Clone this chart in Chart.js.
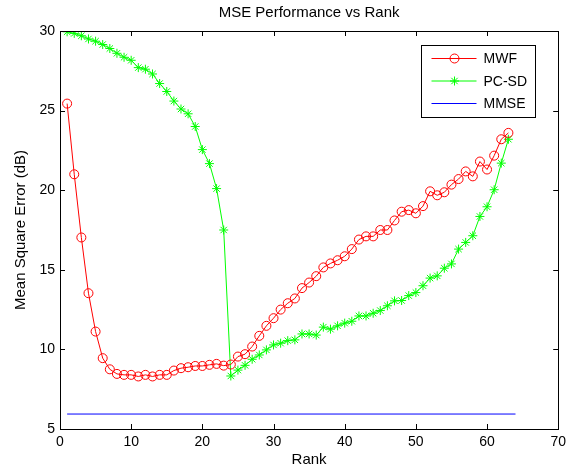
<!DOCTYPE html>
<html>
<head>
<meta charset="utf-8">
<script src="https://cdn.jsdelivr.net/npm/chart.js@4"></script>
<style>
  html, body { margin: 0; padding: 0; background: #fff; }
  #wrap { width: 571px; height: 472px; }
</style>
</head>
<body>
<div id="wrap"><canvas id="mseChart" width="571" height="472"></canvas></div>
<script>
// Rank values used for both estimators
var ranks = [1, 2, 3, 4, 5, 6, 7, 8, 9, 10, 11, 12, 13, 14, 15, 16, 17, 18, 19, 20,
  21, 22, 23, 24, 25, 26, 27, 28, 29, 30, 31, 32, 33, 34, 35, 36, 37, 38, 39, 40,
  41, 42, 43, 44, 45, 46, 47, 48, 49, 50, 51, 52, 53, 54, 55, 56, 57, 58, 59, 60,
  61, 62, 63];

// Mean square error (dB) per rank
var mwf = [25.44, 21.0, 17.03, 13.53, 11.12, 9.45, 8.75, 8.46, 8.4, 8.4,
  8.3, 8.4, 8.3, 8.4, 8.4, 8.67, 8.82, 8.88, 8.96, 8.96,
  9.03, 9.09, 8.98, 9.05, 9.55, 9.7, 10.18, 10.85, 11.48, 11.96,
  12.5, 12.9, 13.2, 13.85, 14.2, 14.6, 15.15, 15.4, 15.6, 15.85,
  16.3, 16.9, 17.1, 17.1, 17.5, 17.5, 18.1, 18.65, 18.75, 18.55,
  19.0, 19.93, 19.68, 19.87, 20.35, 20.7, 21.18, 20.87, 21.8, 21.3,
  22.17, 23.2, 23.6];

var pcsd = [29.95, 29.85, 29.7, 29.5, 29.36, 29.15, 28.9, 28.6, 28.35, 28.16,
  27.7, 27.6, 27.3, 26.7, 26.2, 25.6, 25.1, 24.8, 24.0, 22.55,
  21.67, 20.1, 17.5, 8.33, 8.7, 9.0, 9.38, 9.65, 9.97, 10.28,
  10.39, 10.55, 10.6, 10.97, 10.97, 10.9, 11.4, 11.27, 11.48, 11.65,
  11.77, 12.1, 12.1, 12.27, 12.44, 12.74, 13.05, 13.07, 13.38, 13.57,
  14.0, 14.48, 14.62, 15.1, 15.37, 16.3, 16.72, 17.14, 18.35, 18.96,
  20.03, 21.7, 23.2];

// MMSE bound is flat over the whole rank range
var mmseRanks = [1, 64];
var mmse = [5.94, 5.94];

var xTicks = [0, 10, 20, 30, 40, 50, 60, 70];
var yTicks = [5, 10, 15, 20, 25, 30];

function toPoints(xs, ys) {
  return xs.map(function (x, i) { return { x: x, y: ys[i] }; });
}

var FONT = "'Liberation Sans', Arial, Helvetica, sans-serif";

// matlab-style frame with inward ticks, title and boxed legend
var framePlugin = {
  id: "frame",
  afterDraw: function (chart) {
    var ctx = chart.ctx;
    var a = chart.chartArea;
    var xs = chart.scales.x, ys = chart.scales.y;
    var tl = 5;
    ctx.save();
    ctx.strokeStyle = "#000";
    ctx.lineWidth = 1;
    ctx.beginPath();
    xTicks.forEach(function (v) {
      var px = Math.round(xs.getPixelForValue(v)) + 0.5;
      ctx.moveTo(px, a.bottom); ctx.lineTo(px, a.bottom - tl);
      ctx.moveTo(px, a.top); ctx.lineTo(px, a.top + tl);
    });
    yTicks.forEach(function (v) {
      var py = Math.round(ys.getPixelForValue(v)) + 0.5;
      ctx.moveTo(a.left, py); ctx.lineTo(a.left + tl, py);
      ctx.moveTo(a.right, py); ctx.lineTo(a.right - tl, py);
    });
    ctx.stroke();
    ctx.strokeRect(Math.round(a.left) + 0.5, Math.round(a.top) + 0.5,
      Math.round(a.right - a.left), Math.round(a.bottom - a.top));

    // title
    ctx.fillStyle = "#000";
    ctx.font = "15px " + FONT;
    ctx.textAlign = "center";
    ctx.textBaseline = "middle";
    ctx.fillText("MSE Performance vs Rank", (a.left + a.right) / 2, 13);

    // legend
    var lx = 421.5, ly = 45.5, lw = 114, lh = 72;
    ctx.fillStyle = "#fff";
    ctx.fillRect(lx, ly, lw, lh);
    ctx.strokeRect(lx, ly, lw, lh);
    var rows = chart.data.datasets;
    rows.forEach(function (ds, i) {
      var y = ly + 13 + i * 22.5;
      ctx.strokeStyle = ds.borderColor;
      ctx.lineWidth = 1;
      ctx.beginPath();
      ctx.moveTo(lx + 10, y); ctx.lineTo(lx + 55, y);
      ctx.stroke();
      var cx = lx + 33;
      if (ds.pointStyle === "circle" && ds.pointRadius > 0) {
        ctx.beginPath();
        ctx.arc(cx, y, ds.pointRadius, 0, Math.PI * 2);
        ctx.stroke();
      } else if (ds.pointStyle === "star" && ds.pointRadius > 0) {
        var r = ds.pointRadius, d = r * 0.7071;
        ctx.beginPath();
        ctx.moveTo(cx - r, y); ctx.lineTo(cx + r, y);
        ctx.moveTo(cx, y - r); ctx.lineTo(cx, y + r);
        ctx.moveTo(cx - d, y - d); ctx.lineTo(cx + d, y + d);
        ctx.moveTo(cx - d, y + d); ctx.lineTo(cx + d, y - d);
        ctx.stroke();
      }
      ctx.fillStyle = "#000";
      ctx.font = "14px " + FONT;
      ctx.textAlign = "left";
      ctx.fillText(ds.label, lx + 62, y + 1);
    });
    ctx.restore();
  }
};

var ctx = document.getElementById("mseChart").getContext("2d");
var mseChart = new Chart(ctx, {
  type: "line",
  data: {
    datasets: [
      {
        label: "MWF",
        data: toPoints(ranks, mwf),
        borderColor: "#ff0000",
        backgroundColor: "transparent",
        borderWidth: 1,
        pointStyle: "circle",
        pointRadius: 4.5,
        pointBorderWidth: 1,
        pointBorderColor: "#ff0000",
        pointBackgroundColor: "transparent"
      },
      {
        label: "PC-SD",
        data: toPoints(ranks, pcsd),
        borderColor: "#00ff00",
        backgroundColor: "transparent",
        borderWidth: 1,
        pointStyle: "star",
        pointRadius: 4.5,
        pointBorderWidth: 1,
        pointBorderColor: "#00ff00"
      },
      {
        label: "MMSE",
        data: toPoints(mmseRanks, mmse),
        borderColor: "#0000ff",
        backgroundColor: "transparent",
        borderWidth: 1,
        pointStyle: "line",
        pointRadius: 0
      }
    ]
  },
  options: {
    responsive: false,
    animation: false,
    events: [],
    layout: { padding: { top: 31, right: 8, left: 0, bottom: 0 } },
    plugins: {
      legend: { display: false },
      title: { display: false },
      tooltip: { enabled: false }
    },
    elements: { line: { tension: 0 } },
    scales: {
      x: {
        type: "linear",
        min: 0,
        max: 70,
        afterFit: function (scale) { scale.height = 43; },
        afterBuildTicks: function (scale) {
          scale.ticks = xTicks.map(function (v) { return { value: v }; });
        },
        grid: { display: false, drawTicks: false },
        border: { display: false },
        ticks: { color: "#000", font: { family: FONT, size: 14 }, padding: 5, maxRotation: 0 },
        title: { display: true, text: "Rank", color: "#000", font: { family: FONT, size: 15 }, padding: { top: 0, bottom: 3 } }
      },
      y: {
        type: "linear",
        min: 5,
        max: 30,
        afterFit: function (scale) { scale.width = 60; },
        afterBuildTicks: function (scale) {
          scale.ticks = yTicks.map(function (v) { return { value: v }; });
        },
        grid: { display: false, drawTicks: false },
        border: { display: false },
        ticks: { color: "#000", font: { family: FONT, size: 14 }, padding: 5 },
        title: { display: true, text: "Mean Square Error (dB)", color: "#000", font: { family: FONT, size: 15 }, padding: { top: 12, bottom: 0 } }
      }
    }
  },
  plugins: [framePlugin]
});
</script>
</body>
</html>
